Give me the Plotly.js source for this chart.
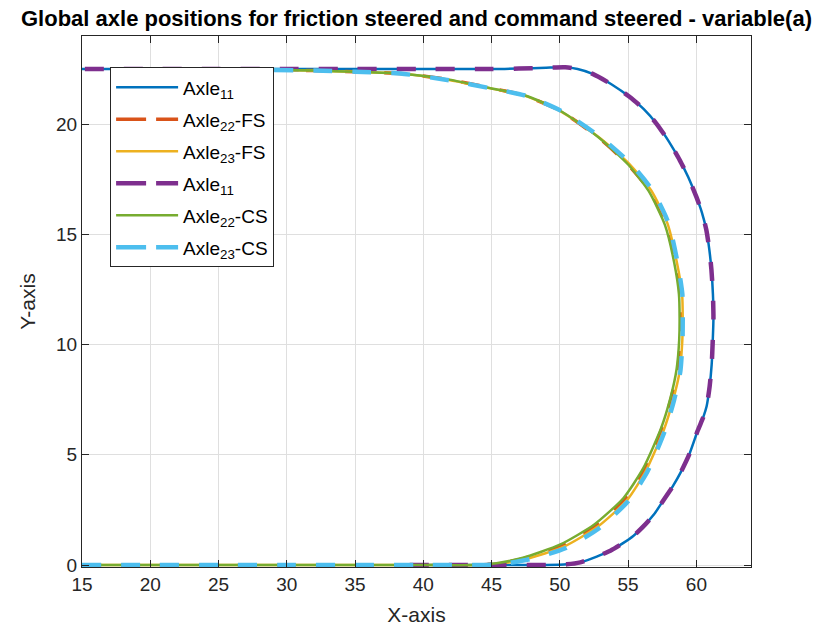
<!DOCTYPE html>
<html>
<head>
<meta charset="utf-8">
<script src="https://cdn.plot.ly/plotly-3.0.1.min.js"></script>
<style>html,body{margin:0;padding:0;background:#fff;}#chart{width:825px;height:626px;}</style>
</head>
<body>
<div id="chart"></div>
<script>
// Axle 11 (front axle) path, same for friction steered and command steered
const axle11FsX = [39, 45, 49, 50.5, 51.5, 52.7, 53.7, 54.6, 55.4, 56.1, 56.9, 57.6, 58.3, 58.85, 59.5, 60.1, 60.5, 60.75, 60.97, 61.12, 61.2, 61.25, 61.21, 61.1, 60.95, 60.73, 60.4, 60.0, 59.4, 58.78, 58.0, 57.07, 56.15, 55.1, 53.8, 52.4, 51.3, 50.4, 49, 47, 45, 40, 35, 30, 25, 20, 15];
const axle11FsY = [0, 0, 0, 0.03, 0.12, 0.38, 0.65, 0.98, 1.33, 1.74, 2.3, 2.95, 3.6, 4.2, 5.05, 6.1, 6.7, 7.2, 8.1, 9.1, 10.2, 11.2, 12.3, 13.4, 14.3, 15.2, 16.0, 16.7, 17.6, 18.37, 19.2, 20.03, 20.68, 21.24, 21.8, 22.28, 22.5, 22.58, 22.56, 22.52, 22.5, 22.5, 22.5, 22.5, 22.5, 22.5, 22.5];
const axle11CsX = [39, 45, 49, 50.5, 51.5, 52.7, 53.7, 54.6, 55.4, 56.1, 56.9, 57.6, 58.3, 58.85, 59.5, 60.1, 60.5, 60.75, 60.97, 61.12, 61.2, 61.25, 61.21, 61.1, 60.95, 60.73, 60.4, 60.0, 59.4, 58.78, 58.0, 57.07, 56.15, 55.1, 53.8, 52.4, 51.3, 50.4, 49, 47, 45, 40, 35, 30, 25, 20, 15];
const axle11CsY = [0, 0, 0, 0.03, 0.12, 0.38, 0.65, 0.98, 1.33, 1.74, 2.3, 2.95, 3.6, 4.2, 5.05, 6.1, 6.7, 7.2, 8.1, 9.1, 10.2, 11.2, 12.3, 13.4, 14.3, 15.2, 16.0, 16.7, 17.6, 18.37, 19.2, 20.03, 20.68, 21.24, 21.8, 22.28, 22.5, 22.58, 22.56, 22.52, 22.5, 22.5, 22.5, 22.5, 22.5, 22.5, 22.5];

// Axle 22, friction steered
const axle22FsX = [15, 20, 25, 30, 35, 40, 44, 45.5, 47.4, 50.1, 52.6, 54.75, 56.2, 57.45, 58.15, 58.62, 58.84, 58.88, 58.83, 58.48, 57.78, 56.55, 54.95, 52.75, 49.95, 47.35, 45.0, 41.9, 38.3, 35, 32, 29, 27];
const axle22FsY = [0, 0, 0, 0, 0, 0, 0, 0.07, 0.3, 0.86, 1.78, 3.0, 4.33, 6.15, 7.55, 8.85, 10.2, 11.2, 12.3, 13.7, 15.45, 17.0, 18.2, 19.43, 20.63, 21.31, 21.63, 22.02, 22.3, 22.38, 22.43, 22.46, 22.48];
// Axle 23, friction steered
const axle23FsX = [15, 20, 25, 30, 35, 40, 44.1, 45.6, 47.55, 50.25, 52.75, 54.9, 56.3, 57.6, 58.3, 58.78, 58.97, 59.0, 58.95, 58.58, 57.88, 56.68, 55.08, 52.88, 50.0, 47.4, 45.1, 41.9, 38.3, 35, 32, 29, 27];
const axle23FsY = [0, 0, 0, 0, 0, 0, 0, 0.06, 0.28, 0.82, 1.73, 2.93, 4.27, 6.1, 7.5, 8.8, 10.2, 11.2, 12.3, 13.7, 15.5, 17.0, 18.2, 19.4, 20.6, 21.3, 21.6, 22.0, 22.3, 22.38, 22.43, 22.46, 22.48];
// Axle 22, command steered
const axle22CsX = [15, 20, 25, 30, 35, 40, 43.7, 45.35, 47.3, 50.0, 52.5, 54.65, 56.1, 57.4, 58.1, 58.55, 58.74, 58.77, 58.72, 58.38, 57.7, 56.5, 55.0, 52.8, 50.0, 47.4, 45.0, 41.9, 38.3, 35, 32, 29, 27];
const axle22CsY = [0, 0, 0, 0, 0, 0, 0, 0.08, 0.33, 0.92, 1.83, 3.03, 4.38, 6.18, 7.58, 8.88, 10.2, 11.2, 12.3, 13.7, 15.42, 16.97, 18.17, 19.42, 20.62, 21.31, 21.62, 22.02, 22.3, 22.38, 22.43, 22.46, 22.48];
// Axle 23, command steered
const axle23CsX = [15, 20, 25, 30, 35, 40, 44.3, 45.8, 47.75, 50.4, 52.85, 54.98, 56.4, 57.68, 58.36, 58.82, 58.98, 59.0, 58.97, 58.62, 57.95, 56.78, 55.2, 53.0, 50.1, 47.45, 45.15, 41.9, 38.3, 35, 32, 29, 27];
const axle23CsY = [0, 0, 0, 0, 0, 0, 0, 0.05, 0.26, 0.76, 1.66, 2.88, 4.22, 6.07, 7.47, 8.77, 10.15, 11.2, 12.3, 13.72, 15.52, 17.0, 18.2, 19.4, 20.6, 21.3, 21.6, 21.99, 22.3, 22.38, 22.43, 22.46, 22.48];

const seriesNames = ['Axle<sub>11</sub>', 'Axle<sub>22</sub>-FS', 'Axle<sub>23</sub>-FS', 'Axle<sub>11</sub>', 'Axle<sub>22</sub>-CS', 'Axle<sub>23</sub>-CS'];
const xTicks = [15, 20, 25, 30, 35, 40, 45, 50, 55, 60];
const yTicks = [0, 5, 10, 15, 20];

const seriesX = [axle11FsX, axle22FsX, axle23FsX, axle11CsX, axle22CsX, axle23CsX];
const seriesY = [axle11FsY, axle22FsY, axle23FsY, axle11CsY, axle22CsY, axle23CsY];
const styles = [
  {color: '#0072BD', width: 2.5, dash: 'solid', ldash: 'solid'},
  {color: '#D95319', width: 3.5, dash: '19px,20px', ldash: '30px,10px'},
  {color: '#EDB120', width: 2.5, dash: 'solid', ldash: 'solid'},
  {color: '#7E2F8E', width: 4.5, dash: '19px,20px', ldash: '30px,10px'},
  {color: '#77AC30', width: 2.5, dash: 'solid', ldash: 'solid'},
  {color: '#4DBEEE', width: 4.5, dash: '19px,20px', ldash: '30px,10px'}
];

const traces = [];
for (let i = 0; i < 6; i++) {
  traces.push({
    x: seriesX[i], y: seriesY[i], type: 'scatter', mode: 'lines',
    line: {color: styles[i].color, width: styles[i].width, dash: styles[i].dash, shape: 'spline', smoothing: 0.6},
    showlegend: false, hoverinfo: 'skip'
  });
}
for (let i = 0; i < 6; i++) {
  traces.push({
    x: [null], y: [null], type: 'scatter', mode: 'lines', name: seriesNames[i],
    legendgroup: 'g' + i,
    line: {color: styles[i].color, width: styles[i].width, dash: styles[i].ldash}
  });
}

const FONT = 'Liberation Sans, Arial, sans-serif';
const axisCommon = {
  showline: true, linecolor: '#262626', linewidth: 1, mirror: 'ticks',
  ticks: 'inside', ticklen: 7, tickcolor: '#262626', tickwidth: 1,
  showgrid: true, gridcolor: '#dfdfdf', gridwidth: 1, zeroline: false,
  tickfont: {family: FONT, size: 19, color: '#262626'}
};

const layout = {
  width: 825, height: 626,
  margin: {l: 82, r: 74, t: 36, b: 59},
  paper_bgcolor: '#fff', plot_bgcolor: '#fff',
  title: {
    text: 'Global axle positions for friction steered and command steered - variable(a)',
    font: {family: FONT, size: 22, color: '#000', weight: 'bold'},
    x: 0.5, xref: 'paper', y: 0.971, yref: 'container', yanchor: 'middle'
  },
  xaxis: Object.assign({}, axisCommon, {
    range: [15, 64], tickvals: xTicks, ticktext: xTicks.map(String),
    title: {text: 'X-axis', standoff: 13, font: {family: FONT, size: 21, color: '#262626'}}
  }),
  yaxis: Object.assign({}, axisCommon, {
    range: [-0.09, 24], tickvals: yTicks, ticktext: yTicks.map(String),
    title: {text: 'Y-axis', standoff: 14, font: {family: FONT, size: 21, color: '#262626'}}
  }),
  legend: {
    x: 0.042, y: 0.9407, xanchor: 'left', yanchor: 'top',
    bgcolor: '#fff', bordercolor: '#262626', borderwidth: 1,
    font: {family: FONT, size: 19, color: '#000'},
    itemwidth: 62, tracegroupgap: 4.3, traceorder: 'grouped'
  },
  showlegend: true
};

Plotly.newPlot('chart', traces, layout, {displayModeBar: false, staticPlot: true});
</script>
</body>
</html>
